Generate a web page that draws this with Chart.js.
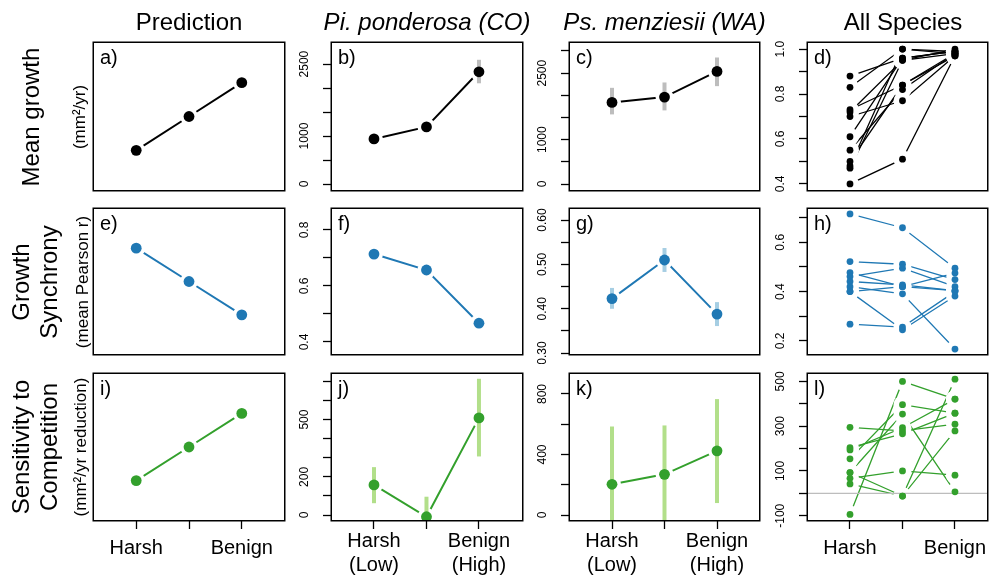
<!DOCTYPE html>
<html>
<head>
<meta charset="utf-8">
<script src="https://cdn.jsdelivr.net/npm/chart.js@4.4.1/dist/chart.umd.min.js"></script>
<style>
  body { margin: 0; background: #fff; }
  #wrap { position: relative; width: 989px; height: 580px; overflow: hidden; font-family: "Liberation Sans", Arial, sans-serif; }
  #wrap canvas { position: absolute; }
  .txt { position: absolute; white-space: nowrap; line-height: 1; color: #000; }
</style>
</head>
<body>
<div id="wrap"></div>
<script>
// ---- data ----
const conditions = [1, 2, 3]; // Harsh, middle, Benign
const xLabelsPlain = ['Harsh', '', 'Benign'];
const xLabelsSite = [['Harsh', '(Low)'], '', ['Benign', '(High)']];
const colTitles = ['Prediction', 'Pi. ponderosa (CO)', 'Ps. menziesii (WA)', 'All Species'];

// Prediction column (no units)
const predGrowth = [2.7, 5.0, 7.3];
const predSync = [7.3, 5.0, 2.7];
const predComp = [2.7, 5.0, 7.3];

// Pi. ponderosa (CO)
const ponGrowth = [940, 1190, 2340];
const ponGrowthLo = [880, 1110, 2100];
const ponGrowthHi = [1000, 1270, 2590];
const ponSync = [0.714, 0.657, 0.467];
const ponSyncLo = [0.702, 0.645, 0.455];
const ponSyncHi = [0.726, 0.669, 0.479];
const ponComp = [158, -9, 509];
const ponCompLo = [62, -60, 307];
const ponCompHi = [251, 96, 714];

// Ps. menziesii (WA)
const menGrowth = [1840, 1960, 2540];
const menGrowthLo = [1570, 1660, 2207];
const menGrowthHi = [2169, 2290, 2853];
const menSync = [0.423, 0.510, 0.388];
const menSyncLo = [0.400, 0.483, 0.361];
const menSyncHi = [0.447, 0.537, 0.415];
const menComp = [203, 269, 424];
const menCompLo = [-179, -54, 79];
const menCompHi = [585, 592, 766];

// All species (one value per species at each condition)
const allGrowthHarsh = [0.88, 0.83, 0.73, 0.72, 0.70, 0.61, 0.55, 0.50, 0.48, 0.47, 0.40];
const allGrowthMid = [0.96, 1.00, 0.84, 0.95, 0.77, 0.96, 0.82, 0.84, 1.00, 0.95, 0.51];
const allGrowthBenign = [0.99, 0.98, 0.98, 1.00, 0.97, 0.99, 0.98, 0.97, 0.99, 0.98, 0.97];

const allSyncHarsh = [0.715, 0.522, 0.477, 0.461, 0.441, 0.42, 0.40, 0.40, 0.268];
const allSyncMid = [0.659, 0.511, 0.42, 0.495, 0.427, 0.391, 0.42, 0.245, 0.256];
const allSyncBenign = [0.495, 0.449, 0.475, 0.42, 0.404, 0.167, 0.404, 0.382, 0.40];

const allCompHarsh = [-94, 295, 204, 194, 154, 93, 67, 42, 93];
const allCompMid = [500, 279, 266, 293, 396, 354, 100, -12, -12];
const allCompBenign = [421, 309, 358, 421, 358, 7, 81, 510, 279];

// y axis ticks and their labels
const ponGrowthTicks = [0, 500, 1000, 1500, 2000, 2500];
const ponGrowthTickLabels = ['0', '', '1000', '', '', '2500'];
const menGrowthTicks = [0, 500, 1000, 1500, 2000, 2500, 3000];
const menGrowthTickLabels = ['0', '', '1000', '', '', '2500', ''];
const allGrowthTicks = [0.4, 0.5, 0.6, 0.7, 0.8, 0.9, 1.0];
const allGrowthTickLabels = ['0.4', '', '0.6', '', '0.8', '', '1.0'];
const ponSyncTicks = [0.4, 0.5, 0.6, 0.7, 0.8];
const ponSyncTickLabels = ['0.4', '', '0.6', '', '0.8'];
const menSyncTicks = [0.30, 0.35, 0.40, 0.45, 0.50, 0.55, 0.60];
const menSyncTickLabels = ['0.30', '', '0.40', '', '0.50', '', '0.60'];
const allSyncTicks = [0.2, 0.3, 0.4, 0.5, 0.6, 0.7];
const allSyncTickLabels = ['0.2', '', '0.4', '', '0.6', ''];
const ponCompTicks = [0, 100, 200, 300, 400, 500, 600, 700];
const ponCompTickLabels = ['0', '', '200', '', '', '500', '', ''];
const menCompTicks = [0, 200, 400, 600, 800];
const menCompTickLabels = ['0', '', '400', '', '800'];
const allCompTicks = [-100, 0, 100, 200, 300, 400, 500];
const allCompTickLabels = ['-100', '', '100', '', '300', '', '500'];

// ---- colours and layout ----
const black = '#000000', blue = '#1f78b4', green = '#33a02c';
const grayErr = '#bdbdbd', blueErr = '#a6cee3', greenErr = '#b2df8a';
const fontFamily = '"Liberation Sans", Arial, sans-serif';

const colLeft = [94, 332, 570, 808];
const colRight = [284, 522, 759, 987];
const colXMax = [3.8, 3.82, 3.8, 3.61];
const rowTop = [43, 209, 374];
const rowBottom = [190, 354, 520];

const AXIS_W = 60, PAD = 10, XAXIS_H = 60, TICK = 9, LABEL_OFF = 27;

const wrap = document.getElementById('wrap');
const measureCtx = document.createElement('canvas').getContext('2d');

function tickPadding(labels) {
  measureCtx.font = '12px ' + fontFamily;
  let w = 0;
  labels.forEach(l => { w = Math.max(w, measureCtx.measureText(l).width); });
  return LABEL_OFF - TICK - w / 2;
}

// box around each plotting region
const framePlugin = {
  id: 'frame',
  beforeDatasetsDraw(chart) {
    const { ctx, chartArea: a } = chart;
    ctx.save();
    ctx.strokeStyle = '#000';
    ctx.lineWidth = 1.5;
    ctx.strokeRect(a.left - 0.75, a.top - 0.75, a.right - a.left + 1.5, a.bottom - a.top + 1.5);
    ctx.restore();
  }
};

function zip3(h, m, b) {
  return h.map((v, i) => [v, m[i], b[i]]);
}

function makePanel(p) {
  const left = colLeft[p.col], right = colRight[p.col];
  const top = rowTop[p.row], bottom = rowBottom[p.row];
  const hasX = p.row === 2;
  const hasY = !!p.ticks;
  const xMax = colXMax[p.col];

  const canvas = document.createElement('canvas');
  const cw = AXIS_W + (right - left) + 2;
  const ch = PAD + (bottom - top) + (hasX ? XAXIS_H : PAD);
  canvas.width = cw;
  canvas.height = ch;
  canvas.style.left = (left - AXIS_W) + 'px';
  canvas.style.top = (top - PAD) + 'px';
  wrap.appendChild(canvas);

  const pts = vals => conditions.map((x, i) => ({ x: x, y: vals[i] }));
  const datasets = [];

  // connecting lines
  p.series.forEach(s => datasets.push({
    data: pts(s), showLine: true, borderColor: p.color, borderWidth: p.lw,
    pointRadius: 0, order: 5
  }));
  // white gap around points (R type = "b")
  datasets.push({
    data: p.series.flatMap(pts), showLine: false, pointRadius: 9,
    pointBackgroundColor: '#ffffff', pointBorderWidth: 0, clip: 0, order: 4
  });
  if (p.zero) {
    datasets.push({
      data: [{ x: 0.2, y: 0 }, { x: xMax, y: 0 }], showLine: true,
      borderColor: '#bdbdbd', borderWidth: 1.3, pointRadius: 0, order: 3
    });
  }
  if (p.lo) {
    p.lo.forEach((lo, i) => datasets.push({
      data: [{ x: conditions[i], y: lo }, { x: conditions[i], y: p.hi[i] }],
      showLine: true, borderColor: p.errColor, borderWidth: 4,
      pointRadius: 0, clip: 0, order: 2
    }));
  }
  // the points
  datasets.push({
    data: p.series.flatMap(pts), showLine: false, pointRadius: p.r,
    pointBackgroundColor: p.color, pointBorderWidth: 0, order: 1
  });

  new Chart(canvas, {
    type: 'scatter',
    data: { datasets: datasets },
    options: {
      responsive: false,
      animation: false,
      devicePixelRatio: 1,
      events: [],
      layout: {
        autoPadding: false,
        padding: { top: PAD, bottom: hasX ? 0 : PAD, right: 2, left: hasY ? 0 : AXIS_W }
      },
      plugins: { legend: { display: false }, tooltip: { enabled: false } },
      scales: {
        x: {
          type: 'linear', min: 0.2, max: xMax,
          display: hasX,
          afterBuildTicks: s => { s.ticks = conditions.map(v => ({ value: v })); },
          afterFit: s => {
            s.height = hasX ? XAXIS_H : 0;
            s.paddingLeft = 0; s.paddingRight = 0;
          },
          grid: { drawOnChartArea: false, drawTicks: true, tickLength: TICK, tickColor: '#000', tickWidth: 1.3 },
          border: { display: false },
          ticks: {
            autoSkip: false, maxRotation: 0, color: '#000',
            font: { family: fontFamily, size: 20 },
            padding: p.xPad,
            callback: (v, i) => p.xLabels ? p.xLabels[i] : ''
          }
        },
        y: {
          type: 'linear', min: p.yMin, max: p.yMax,
          display: hasY,
          afterBuildTicks: s => { s.ticks = (p.ticks || []).map(v => ({ value: v })); },
          afterFit: s => {
            s.width = hasY ? AXIS_W : 0;
            s.paddingTop = 0; s.paddingBottom = 0;
          },
          grid: { drawOnChartArea: false, drawTicks: true, tickLength: TICK, tickColor: '#000', tickWidth: 1.3 },
          border: { display: false },
          ticks: {
            autoSkip: false, minRotation: 90, maxRotation: 90, crossAlign: 'center',
            color: '#000', font: { family: fontFamily, size: 12 },
            padding: hasY ? tickPadding(p.tickLabels) : 0,
            callback: (v, i) => p.tickLabels ? p.tickLabels[i] : ''
          }
        }
      }
    },
    plugins: [framePlugin]
  });
}

// ---- text helpers ----
function hText(str, x, baseline, size, opt) {
  opt = opt || {};
  const d = document.createElement('div');
  d.className = 'txt';
  d.textContent = str;
  d.style.fontSize = size + 'px';
  d.style.left = x + 'px';
  d.style.top = (baseline - 0.8465 * size) + 'px';
  if (!opt.left) d.style.transform = 'translateX(-50%)';
  if (opt.italic) d.style.fontStyle = 'italic';
  wrap.appendChild(d);
}

function vText(str, baselineX, cy, size) {
  const d = document.createElement('div');
  d.className = 'txt';
  d.textContent = str;
  d.style.fontSize = size + 'px';
  d.style.left = (baselineX - 0.3465 * size) + 'px';
  d.style.top = cy + 'px';
  d.style.transform = 'translate(-50%, -50%) rotate(-90deg)';
  wrap.appendChild(d);
}

// ---- panels ----
const bigDot = 5.4, smallDot = 3.4;

makePanel({ col: 0, row: 0, series: [predGrowth], yMin: 0, yMax: 10, color: black, lw: 2, r: bigDot });
makePanel({ col: 1, row: 0, series: [ponGrowth], lo: ponGrowthLo, hi: ponGrowthHi, yMin: -125, yMax: 2940,
  ticks: ponGrowthTicks, tickLabels: ponGrowthTickLabels, color: black, errColor: grayErr, lw: 2, r: bigDot });
makePanel({ col: 2, row: 0, series: [menGrowth], lo: menGrowthLo, hi: menGrowthHi, yMin: -135, yMax: 3180,
  ticks: menGrowthTicks, tickLabels: menGrowthTickLabels, color: black, errColor: grayErr, lw: 2, r: bigDot });
makePanel({ col: 3, row: 0, series: zip3(allGrowthHarsh, allGrowthMid, allGrowthBenign), yMin: 0.373, yMax: 1.027,
  ticks: allGrowthTicks, tickLabels: allGrowthTickLabels, color: black, lw: 1.3, r: smallDot });

makePanel({ col: 0, row: 1, series: [predSync], yMin: 0, yMax: 10, color: blue, lw: 2, r: bigDot });
makePanel({ col: 1, row: 1, series: [ponSync], lo: ponSyncLo, hi: ponSyncHi, yMin: 0.357, yMax: 0.875,
  ticks: ponSyncTicks, tickLabels: ponSyncTickLabels, color: blue, errColor: blueErr, lw: 2, r: bigDot });
makePanel({ col: 2, row: 1, series: [menSync], lo: menSyncLo, hi: menSyncHi, yMin: 0.298, yMax: 0.625,
  ticks: menSyncTicks, tickLabels: menSyncTickLabels, color: blue, errColor: blueErr, lw: 2, r: bigDot });
makePanel({ col: 3, row: 1, series: zip3(allSyncHarsh, allSyncMid, allSyncBenign), yMin: 0.147, yMax: 0.735,
  ticks: allSyncTicks, tickLabels: allSyncTickLabels, color: blue, lw: 1.3, r: smallDot });

makePanel({ col: 0, row: 2, series: [predComp], yMin: 0, yMax: 10, color: green, lw: 2, r: bigDot,
  xLabels: xLabelsPlain, xPad: 7 });
makePanel({ col: 1, row: 2, series: [ponComp], lo: ponCompLo, hi: ponCompHi, yMin: -26, yMax: 739,
  ticks: ponCompTicks, tickLabels: ponCompTickLabels, color: green, errColor: greenErr, lw: 2, r: bigDot,
  xLabels: xLabelsSite, xPad: 0 });
makePanel({ col: 2, row: 2, series: [menComp], lo: menCompLo, hi: menCompHi, yMin: -33, yMax: 932,
  ticks: menCompTicks, tickLabels: menCompTickLabels, color: green, errColor: greenErr, lw: 2, r: bigDot,
  xLabels: xLabelsSite, xPad: 0 });
makePanel({ col: 3, row: 2, series: zip3(allCompHarsh, allCompMid, allCompBenign), yMin: -119, yMax: 533,
  ticks: allCompTicks, tickLabels: allCompTickLabels, color: green, lw: 1.3, r: smallDot, zero: true,
  xLabels: xLabelsPlain, xPad: 7 });

// ---- titles, row labels, panel letters ----
const colCenters = [189, 427, 664.5, 903];
colTitles.forEach((t, i) => hText(t, colCenters[i], 30, 24, { italic: i === 1 || i === 2 }));

vText('Mean growth', 39, 116.5, 24);
vText('(mm\u00b2/yr)', 85, 116.5, 17);
vText('Growth', 29, 281.5, 24);
vText('Synchrony', 57, 281.5, 24);
vText('(mean Pearson r)', 88, 281.5, 17);
vText('Sensitivity to', 29, 447, 24);
vText('Competition', 57, 447, 24);
vText('(mm\u00b2/yr reduction)', 86, 447, 17);

const letters = ['a)', 'b)', 'c)', 'd)', 'e)', 'f)', 'g)', 'h)', 'i)', 'j)', 'k)', 'l)'];
letters.forEach((l, i) => {
  const row = Math.floor(i / 4), col = i % 4;
  hText(l, colLeft[col] + 6, rowTop[row] + 21, 20, { left: true });
});
</script>
</body>
</html>
